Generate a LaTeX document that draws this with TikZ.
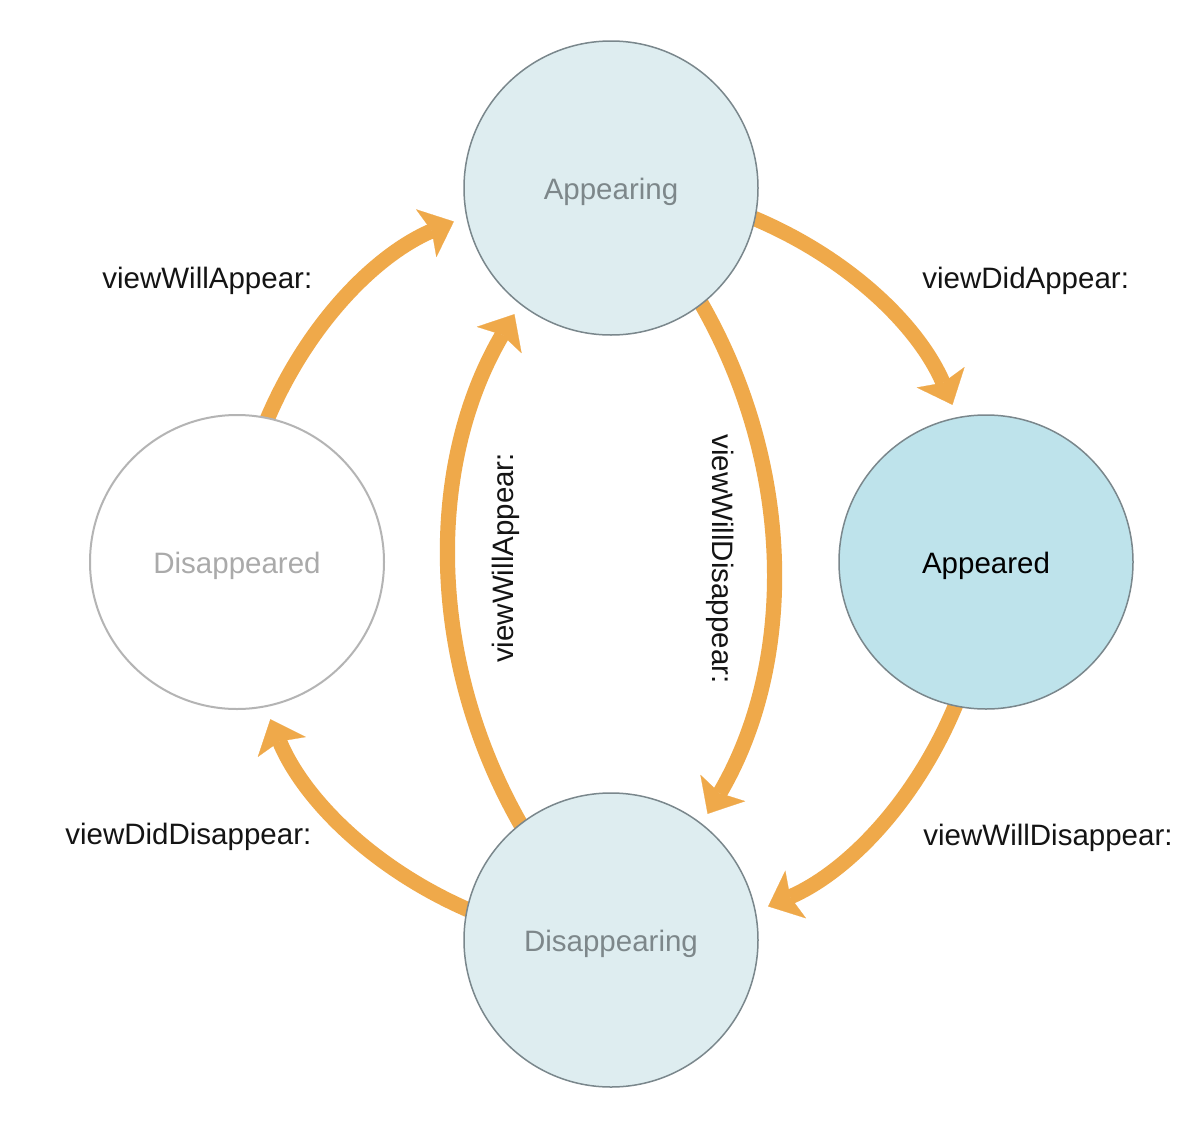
\documentclass[tikz,border=0pt]{standalone}
\usepackage{fontspec}
\setmainfont{Liberation Sans}
\usetikzlibrary{arrows.meta,backgrounds}
\definecolor{arrorange}{HTML}{EFA94A}
\definecolor{palefill}{HTML}{DEEDF0}
\definecolor{strongfill}{HTML}{BEE3EB}
\definecolor{ringgray}{HTML}{7A878C}
\definecolor{lightring}{HTML}{B4B4B4}
\definecolor{softtext}{HTML}{7D878A}
\definecolor{fainttext}{HTML}{AAAAAA}
\definecolor{labeltext}{HTML}{141414}
\begin{document}
\begin{tikzpicture}[x=0.5pt,y=-0.5pt,
  state/.style={circle, minimum size=147pt, inner sep=0pt, outer sep=0pt,
    draw=ringgray, line width=0.75pt, font=\fontsize{14.75pt}{17pt}\selectfont,
    text height=11pt, text depth=0pt},
  flow/.style={draw=arrorange, line width=7.6pt,
    -{Stealth[length=15pt,width=26pt,inset=3pt,line width=0.1pt]},
    shorten <=-4pt},
  outerflow/.style={flow, bend left=22.4, looseness=0.9, shorten >=7pt},
  innerflow/.style={flow, bend left=30.5, looseness=0.92, shorten >=6pt},
  lbl/.style={font=\fontsize{14.75pt}{17pt}\selectfont, text=labeltext, inner sep=0pt}
]
\useasboundingbox (0,0) rectangle (1194,1124);

\node[state, fill=palefill, text=softtext] (app) at (611,188) {Appearing};
\node[state, fill=strongfill, text=black] (apd) at (986,562) {Appeared};
\node[state, fill=white, draw=lightring, line width=1pt, text=fainttext] (dis) at (237,562) {Disappeared};
\node[state, fill=palefill, text=softtext] (disg) at (611,940) {Disappearing};

\begin{pgfonlayer}{background}
\fill[white] (0,0) rectangle (1194,1124);
\draw[outerflow] (dis.78.7) to (app.191.3);
\draw[outerflow] (app.348.7) to (apd.101.3);
\draw[outerflow] (apd.258.7) to (disg.11.3);
\draw[outerflow] (disg.168.7) to (dis.281.3);
\draw[innerflow] (disg.128) to (app.232);
\draw[innerflow] (app.308) to (disg.52);
\end{pgfonlayer}

\node[lbl, anchor=base west] (l1) at (102,288) {viewWillAppear:};
\node[lbl, anchor=base west] (l2) at (922,288) {viewDidAppear:};
\node[lbl, anchor=base west] (l3) at (65,844) {viewDidDisappear:};
\node[lbl, anchor=base west] (l4) at (923,845) {viewWillDisappear:};
\node[lbl, anchor=base, rotate=90] (l5) at (513,558) {viewWillAppear:};
\node[lbl, anchor=base, rotate=-90] (l6) at (712,559) {viewWillDisappear:};
\end{tikzpicture}
\end{document}
